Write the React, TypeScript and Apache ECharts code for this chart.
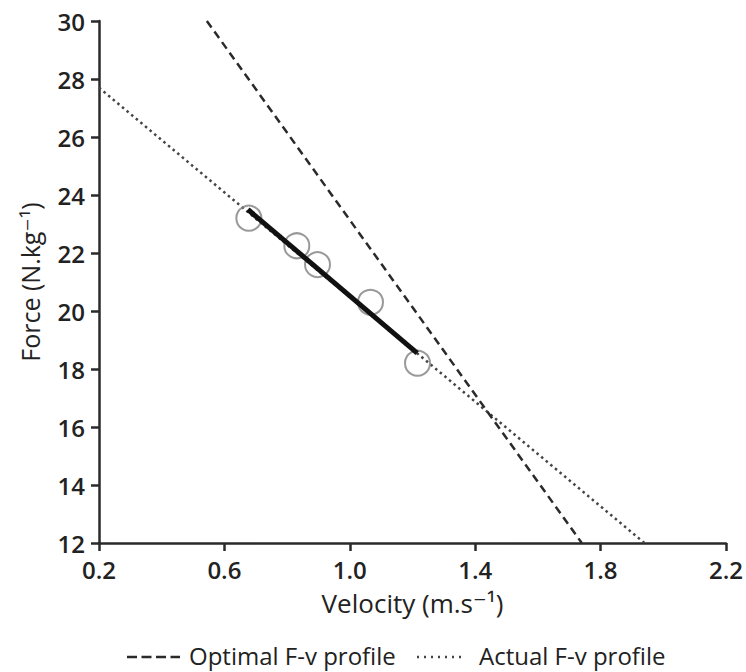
import React, { useEffect, useRef } from "react";
import * as echarts from "echarts";

// Measured sprint data points (velocity m/s, force N/kg)
const velocity = [0.678, 0.831, 0.897, 1.066, 1.216];
const force = [23.2, 22.25, 21.6, 20.3, 18.2];

// Linear fit over measured range
const fitVelocity = [0.675, 1.215];
const fitForce = [23.5, 18.55];

// Optimal F-v profile (dashed)
const optimalVelocity = [0.544, 1.74];
const optimalForce = [30, 12];

// Actual F-v profile (dotted)
const actualVelocity = [0.2, 1.94];
const actualForce = [27.7, 12];

const legendNames = ["Optimal F-v profile", "Actual F-v profile"];

const FONT = "'Open Sans', 'DejaVu Sans', sans-serif";
const DASH: number[] = [8, 5];
const DOT: number[] = [2.5, 3.5];

const pairs = (xs: number[], ys: number[]) => xs.map((x, i) => [x, ys[i]]);

export default function App() {
  const ref = useRef<HTMLDivElement>(null);
  useEffect(() => {
    if (!ref.current) return;
    const chart = echarts.init(ref.current, undefined, { renderer: "svg" });
    const axisColor = "#2a2a2a";
    const legendY = 655;
    chart.setOption({
      animation: false,
      backgroundColor: "#ffffff",
      grid: { left: 99, right: 18, top: 21, bottom: 129, containLabel: false },
      xAxis: {
        type: "value",
        min: 0.2,
        max: 2.2,
        interval: 0.4,
        name: "Velocity (m.s⁻¹)",
        nameLocation: "middle",
        nameGap: 47,
        nameTextStyle: { fontFamily: FONT, fontSize: 26, color: "#222" },
        axisLine: { show: true, onZero: false, lineStyle: { color: axisColor, width: 2.5 } },
        axisTick: { show: true, length: 8, lineStyle: { color: axisColor, width: 2.5 } },
        axisLabel: {
          fontFamily: FONT,
          fontSize: 24,
          fontWeight: 600,
          color: "#222",
          margin: 14,
          formatter: (v: number) => v.toFixed(1),
        },
        splitLine: { show: false },
      },
      yAxis: {
        type: "value",
        min: 12,
        max: 30,
        interval: 2,
        name: "Force (N.kg⁻¹)",
        nameLocation: "middle",
        nameGap: 57,
        nameTextStyle: { fontFamily: FONT, fontSize: 25, color: "#222" },
        axisLine: { show: true, onZero: false, lineStyle: { color: axisColor, width: 2.5 } },
        axisTick: { show: true, length: 8, lineStyle: { color: axisColor, width: 2.5 } },
        axisLabel: {
          fontFamily: FONT,
          fontSize: 24,
          fontWeight: 600,
          color: "#222",
          margin: 14,
        },
        splitLine: { show: false },
      },
      graphic: [
        {
          type: "line",
          shape: { x1: 127, y1: legendY + 2, x2: 180, y2: legendY + 2 },
          style: { stroke: "#2a2a2a", lineWidth: 2.5, lineDash: [10, 4.5] },
        },
        {
          type: "text",
          x: 189,
          y: legendY,
          style: {
            text: legendNames[0],
            fontFamily: FONT,
            fontSize: 24,
            fill: "#222",
            verticalAlign: "middle",
            align: "left",
          },
        },
        {
          type: "line",
          shape: { x1: 417, y1: legendY + 2, x2: 466, y2: legendY + 2 },
          style: { stroke: "#444", lineWidth: 2.5, lineDash: [2, 5] },
        },
        {
          type: "text",
          x: 479,
          y: legendY,
          style: {
            text: legendNames[1],
            fontFamily: FONT,
            fontSize: 24,
            fill: "#222",
            verticalAlign: "middle",
            align: "left",
          },
        },
      ],
      series: [
        {
          name: legendNames[1],
          type: "line",
          data: pairs(actualVelocity, actualForce),
          symbol: "none",
          lineStyle: { color: "#444", width: 2.5, type: DOT },
          z: 2,
        },
        {
          name: legendNames[0],
          type: "line",
          data: pairs(optimalVelocity, optimalForce),
          symbol: "none",
          lineStyle: { color: "#2a2a2a", width: 2.5, type: DASH },
          z: 2,
        },
        {
          name: "Measured",
          type: "scatter",
          data: pairs(velocity, force),
          symbol: "circle",
          symbolSize: 25,
          itemStyle: { color: "rgba(255,255,255,0)", borderColor: "#808080", borderWidth: 2 },
          z: 3,
        },
        {
          name: "Fit",
          type: "line",
          data: pairs(fitVelocity, fitForce),
          symbol: "none",
          lineStyle: { color: "#111", width: 5 },
          z: 4,
        },
      ],
    });
    return () => chart.dispose();
  }, []);
  return (
    <div
      ref={ref}
      style={{ position: "absolute", left: 0, top: 0, width: 746, height: 672 }}
    />
  );
}
